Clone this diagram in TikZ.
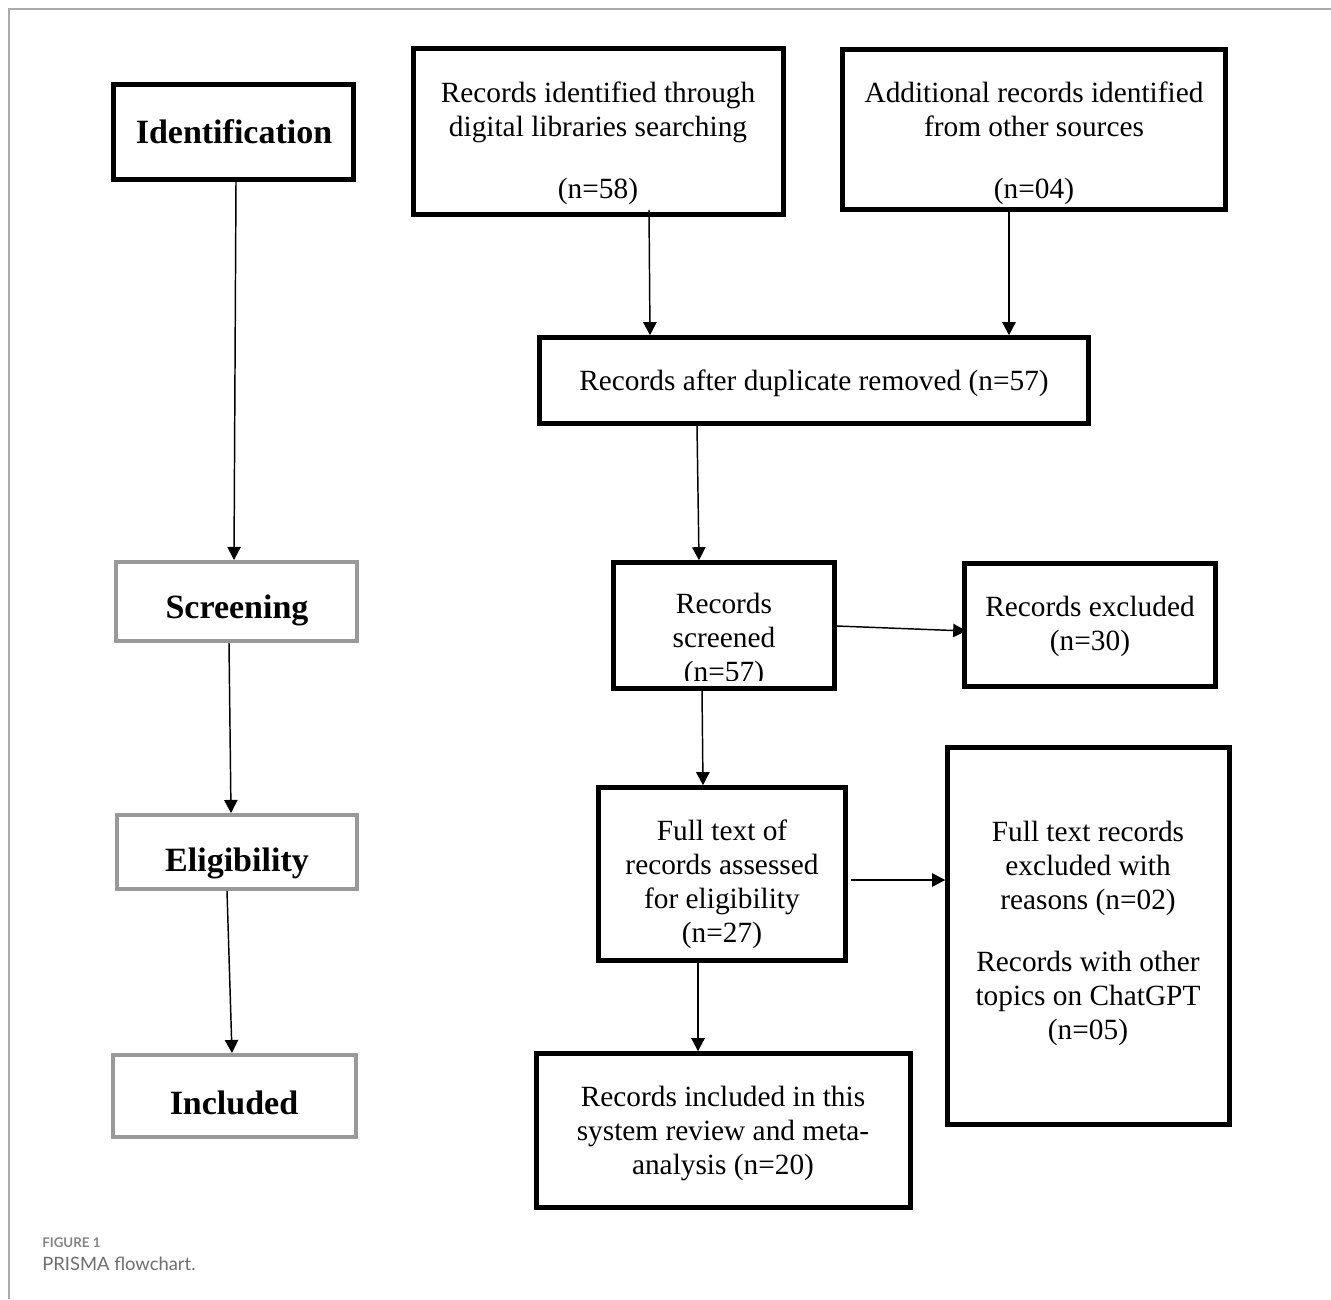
\documentclass[tikz,border=0pt]{standalone}
\usepackage{fontspec}
\setmainfont{Liberation Serif}
\newfontfamily\capfont{Lato}
\usetikzlibrary{arrows.meta,fit,calc}
\definecolor{framegray}{HTML}{AAAAAA}
\definecolor{boxgray}{HTML}{999999}
\definecolor{capgray}{HTML}{6E6E6E}
\begin{document}
\begin{tikzpicture}[x=0.75pt,y=-0.75pt,
  box/.style={draw=black, line width=3.4pt, inner sep=0pt},
  stage/.style={draw=boxgray, line width=3pt, inner sep=0pt},
  txt/.style={align=center, inner sep=0pt, font=\fontsize{22}{25.5}\selectfont},
  lbl/.style={inner sep=0pt, font=\fontsize{25.5}{30}\selectfont\bfseries},
  arr/.style={line width=1.1pt, -{Triangle[length=9.8pt,width=10pt]}}]
\useasboundingbox (0,0) rectangle (1331,1299);
% page frame
\draw[framegray, line width=1.3pt] (9,1299) -- (9,9) -- (1331,9);

% stage boxes
\node[box, fit={(113.5,84.5) (353.5,179.5)}] (id) {};
\node[stage, fit={(116,562) (357,641)}] (scr) {};
\node[stage, fit={(117,815) (357,889)}] (elig) {};
\node[stage, fit={(113,1055) (356,1137)}] (incl) {};
\node[lbl] (tid) at (234,132) {Identification};
\node[lbl] (tscr) at (237,610) {Screening};
\node[lbl] (telig) at (237,863) {Eligibility};
\node[lbl] (tincl) at (234,1103) {Included};

% flow boxes
\node[box, fit={(413.5,48.5) (783.5,214.5)}] (a) {};
\node[box, fit={(842.5,49.5) (1225.5,209.5)}] (b) {};
\node[box, fit={(539.5,337.5) (1088.5,423.5)}] (c) {};
\node[box, fit={(613.5,562.5) (834.5,688.5)}] (d) {};
\node[box, fit={(964.5,563.5) (1215.5,686.5)}] (e) {};
\node[box, fit={(598.5,787.5) (845.5,960.5)}] (f) {};
\node[box, fit={(947.5,747.5) (1229.5,1124.5)}] (g) {};
\node[box, fit={(536.5,1053.5) (910.5,1207.5)}] (h) {};

\node[txt] (ta) at (598,143) {Records identified through\\digital libraries searching\\[21pt](n=58)};
\node[txt] (tb) at (1034,143.5) {Additional records identified\\from other sources\\[21pt](n=04)};
\node[txt] (tc) at (814,383) {Records after duplicate removed (n=57)};
\begin{scope}
\clip (600,575) rectangle (850,680);
\node[txt] (td) at (724,640.5) {Records\\screened\\(n=57)};
\end{scope}
\node[txt] (te) at (1090,626) {Records excluded\\(n=30)};
\node[txt] (tf) at (722,884) {Full text of\\records assessed\\for eligibility\\(n=27)};
\node[txt] (tg) at (1088,933.5) {Full text records\\excluded with\\reasons (n=02)\\[21pt]Records with other\\topics on ChatGPT\\(n=05)};
\node[txt] (th) at (723,1133) {Records included in this\\system review and meta-\\analysis (n=20)};

% connectors
\draw[arr] ($(id.south)+(2.5,0)$) -- ($(scr.north)+(-2.5,0)$);
\draw[arr] ($(scr.south)+(-7.5,0)$) -- ($(elig.north)+(-6,0)$);
\draw[arr] ($(elig.south)+(-10,0)$) -- ($(incl.north)+(-2.5,0)$);
\draw[arr] ($(a.south)+(50.5,-7)$) -- ($(c.north)+(-164,0)$);
\draw[arr] ($(b.south)+(-25,0)$) -- ($(c.north)+(195,0)$);
\draw[arr] ($(c.south)+(-117,0)$) -- ($(d.north)+(-25,0)$);
\draw[arr] ($(d.east)+(0,0.5)$) -- ($(e.west)+(4,6)$);
\draw[arr] ($(d.south)+(-22,0)$) -- ($(f.north)+(-19,0)$);
\draw[arr] ($(f.east)+(3,6)$) -- ($(g.west)+(0,-56)$);
\draw[arr] ($(f.south)+(-24,0)$) -- ($(h.north)+(-25.5,0)$);

% caption
\node[anchor=base west, inner sep=0pt, text=capgray!85, font=\capfont\bfseries\fontsize{10}{12}\selectfont] (fig) at (42,1247) {FIGURE 1};
\node[anchor=base west, inner sep=0pt, text=capgray, font=\capfont\fontsize{13.8}{16}\selectfont] (cap) at (42,1270) {PRISMA flowchart.};
\end{tikzpicture}
\end{document}
